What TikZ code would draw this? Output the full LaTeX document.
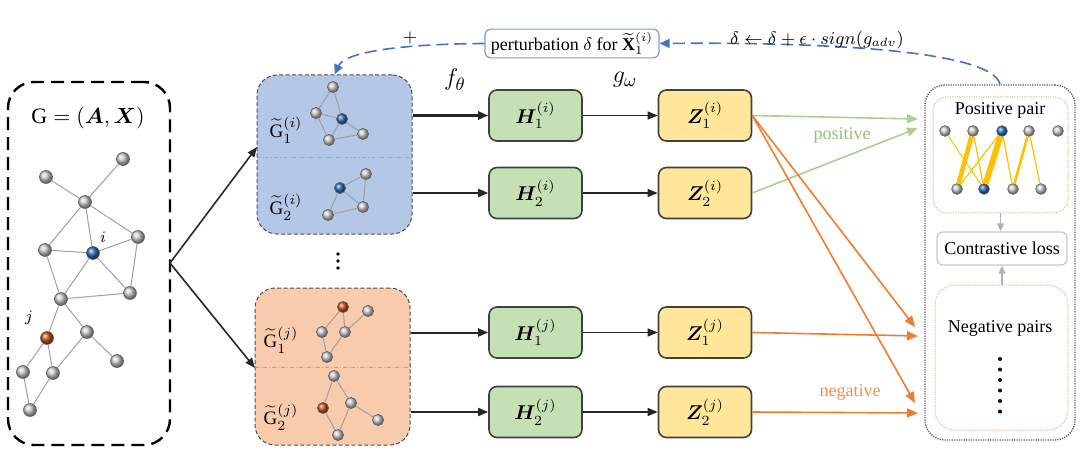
\documentclass[tikz,border=0pt]{standalone}
\usepackage{amsmath,amssymb,bm}
\usepackage{fontspec}
\setmainfont{Liberation Serif}
\usetikzlibrary{arrows.meta}
\definecolor{bluefill}{HTML}{B4C7E7}
\definecolor{orangefill}{HTML}{F8CBAD}
\definecolor{hfill}{HTML}{C5E0B4}
\definecolor{zfill}{HTML}{FFE699}
\definecolor{boxline}{HTML}{404040}
\definecolor{pblue}{HTML}{4472C4}
\definecolor{pgreen}{HTML}{A9D18E}
\definecolor{porange}{HTML}{ED7D31}
\definecolor{edgegray}{HTML}{A0A0A0}
\definecolor{nblue}{HTML}{2A6CB8}
\definecolor{norange}{HTML}{C5500F}
\definecolor{edgey}{HTML}{FFC000}
\begin{document}
\begin{tikzpicture}[x=0.5pt,y=-0.5pt,
  gnode/.style={circle,inner sep=0pt,minimum size=6.5pt,shading=ball,ball color=gray!38,draw=gray!75!black,line width=0.3pt},
  snode/.style={gnode,minimum size=5.6pt},
  rnode/.style={gnode,minimum size=5.4pt},
  bnode/.style={ball color=nblue},
  onode/.style={ball color=norange},
  gedge/.style={draw=edgegray,line width=0.5pt},
  hbox/.style={draw=boxline,line width=0.8pt,fill=hfill,rounded corners=4pt,minimum width=46.5pt,minimum height=25.5pt,font=\fontsize{10}{12}\selectfont},
  zbox/.style={hbox,fill=zfill},
  aug/.style={draw=gray!60!black,dash pattern=on 2pt off 1.2pt,line width=0.5pt,rounded corners=10pt,minimum width=77.5pt},
  divider/.style={draw=gray!70,line width=0.4pt,dash pattern=on 2pt off 1pt on 0.4pt off 1pt},
  blk/.style={-{Triangle[length=5pt,width=4pt]},line width=0.8pt,black!85},
  colarr/.style={-{Triangle[length=5.5pt,width=4.5pt]},line width=0.8pt},
  grayarr/.style={-{Triangle[length=4pt,width=3.5pt]},line width=0.7pt,gray!60},
  feedback/.style={pblue,line width=0.8pt,dash pattern=on 6pt off 3pt},
  lbl/.style={font=\fontsize{9}{11}\selectfont,inner sep=0pt},
  glbl/.style={font=\fontsize{9.5}{11}\selectfont,inner sep=0pt},
  yedge/.style={draw=edgey}
]
\useasboundingbox (0,0) rectangle (1080,470);

% ---------- left graph ----------
\node[draw,line width=1.2pt,dash pattern=on 6.5pt off 3.5pt,rounded corners=13pt,minimum width=81pt,minimum height=181.5pt] (G) at (89,263.5) {};
\node[font=\fontsize{11}{13}\selectfont] (Gt) at (88,118) {$\mathrm{G} = (\boldsymbol{A}, \boldsymbol{X})$};
\node[gnode] (n1) at (46,177) {};
\node[gnode] (n2) at (123,159) {};
\node[gnode] (n3) at (85,202) {};
\node[gnode] (n4) at (45,250) {};
\node[gnode,bnode] (ni) at (93,253) {};
\node[gnode] (n5) at (138,237) {};
\node[gnode] (n6) at (130,293) {};
\node[gnode] (n7) at (61,299) {};
\node[gnode] (n8) at (87,332) {};
\node[gnode,onode] (nj) at (47,338) {};
\node[gnode] (n9) at (117,361) {};
\node[gnode] (n10) at (23,372) {};
\node[gnode] (n11) at (53,373) {};
\node[gnode] (n12) at (30,410) {};
\node[lbl,font=\fontsize{8}{9}\selectfont] (li) at (103,237) {$i$};
\node[lbl,font=\fontsize{8}{9}\selectfont] (lj) at (29,318) {$j$};
\foreach \a/\b in {n1/n3,n2/n3,n3/n4,n3/ni,n3/n5,n4/ni,ni/n5,n4/n7,ni/n7,ni/n6,n5/n6,n7/n6,n7/nj,n7/n8,n8/n9,nj/n10,nj/n11,n11/n8,n10/n12,n12/n11}
  \draw[gedge] (\a) -- (\b);

% ---------- augmented views ----------
\node[aug,fill=bluefill,minimum height=79.5pt] (bluebox) at (334.5,154.5) {};
\draw[divider] (bluebox.west |- 0,157) -- (bluebox.east |- 0,157);
\node[aug,fill=orangefill,minimum height=78.5pt] (orangebox) at (332.5,366.5) {};
\draw[divider] (orangebox.west |- 0,367) -- (orangebox.east |- 0,367);

\node[glbl] (g1i) at (286,130) {$\widetilde{\mathrm{G}}_1^{(i)}$};
\node[glbl] (g2i) at (286,207) {$\widetilde{\mathrm{G}}_2^{(i)}$};
\node[glbl] (g1j) at (281,340) {$\widetilde{\mathrm{G}}_1^{(j)}$};
\node[glbl] (g2j) at (281,417) {$\widetilde{\mathrm{G}}_2^{(j)}$};

% blue sub graph 1
\node[snode] (a1) at (333,87) {};
\node[snode] (b1) at (316,113) {};
\node[snode,bnode] (c1) at (342,119) {};
\node[snode] (d1) at (329,140) {};
\node[snode] (e1) at (363,134) {};
\foreach \a/\b in {a1/b1,a1/c1,b1/c1,b1/d1,c1/d1,c1/e1,d1/e1} \draw[gedge] (\a) -- (\b);
% blue sub graph 2
\node[snode] (f2) at (366,174) {};
\node[snode,bnode] (g2) at (340,188) {};
\node[snode] (h2) at (363,207) {};
\node[snode] (k2) at (328,215) {};
\foreach \a/\b in {g2/f2,f2/h2,g2/h2,g2/k2,k2/h2} \draw[gedge] (\a) -- (\b);
% orange sub graph 1
\node[snode,onode] (p3) at (343,307) {};
\node[snode] (q3) at (368,311) {};
\node[snode] (r3) at (322,332) {};
\node[snode] (s3) at (345,332) {};
\node[snode] (t3) at (327,357) {};
\foreach \a/\b in {p3/r3,p3/s3,s3/q3,r3/t3,s3/t3} \draw[gedge] (\a) -- (\b);
% orange sub graph 2
\node[snode] (u4) at (334,376) {};
\node[snode,onode] (v4) at (323,408) {};
\node[snode] (w4) at (351,403) {};
\node[snode] (x4) at (378,420) {};
\node[snode] (y4) at (338,435) {};
\foreach \a/\b in {u4/v4,u4/w4,w4/x4,w4/y4,v4/y4} \draw[gedge] (\a) -- (\b);

% vertical dots
\foreach \yy in {254,261,268} \fill (338,\yy) circle (0.9pt);

% branching arrows
\coordinate (apex) at (170,263);
\coordinate (bin) at (257,147);
\coordinate (oin) at (255,368);
\draw[blk] (apex) -- (bin);
\draw[blk] (apex) -- (oin);

% ---------- encoders ----------
\node[hbox] (H1i) at (535.5,115.5) {$\boldsymbol{H}_1^{(i)}$};
\node[hbox] (H2i) at (535.5,193) {$\boldsymbol{H}_2^{(i)}$};
\node[hbox] (H1j) at (535.5,332.5) {$\boldsymbol{H}_1^{(j)}$};
\node[hbox] (H2j) at (535.5,412) {$\boldsymbol{H}_2^{(j)}$};
\node[zbox] (Z1i) at (705,115.5) {$\boldsymbol{Z}_1^{(i)}$};
\node[zbox] (Z2i) at (705,193) {$\boldsymbol{Z}_2^{(i)}$};
\node[zbox] (Z1j) at (705,332.5) {$\boldsymbol{Z}_1^{(j)}$};
\node[zbox] (Z2j) at (705,412) {$\boldsymbol{Z}_2^{(j)}$};

\draw[blk,line width=1.2pt] (H1i.west -| bluebox.east) -- (H1i.west);
\draw[blk,line width=1pt] (H2i.west -| bluebox.east) -- (H2i.west);
\draw[blk,line width=1pt] (H1j.west -| orangebox.east) -- (H1j.west);
\draw[blk,line width=1pt] (H2j.west -| orangebox.east) -- (H2j.west);
\foreach \r in {1i,2i,1j,2j} \draw[blk,line width=0.7pt] (H\r.east) -- (Z\r.west);

\node[font=\fontsize{12.5}{14}\selectfont] (fth) at (455,80) {$f_\theta$};
\node[font=\fontsize{12.5}{14}\selectfont] (gom) at (625,80) {$g_\omega$};

% ---------- right panel ----------
\node[draw=gray!70!black,line width=0.7pt,dash pattern=on 0.6pt off 0.6pt,rounded corners=10pt,minimum width=75pt,minimum height=177.5pt] (outer) at (1000,262.5) {};
\node[draw=pgreen,line width=0.5pt,dash pattern=on 0.6pt off 0.6pt,rounded corners=7pt,minimum width=67.5pt,minimum height=58pt] (pos) at (1000.5,155) {};
\node[draw=gray!45,line width=0.6pt,rounded corners=3pt,minimum width=65pt,minimum height=16.5pt,font=\fontsize{9}{11}\selectfont] (loss) at (1002,248.5) {Contrastive loss};
\node[draw=porange!60,line width=0.5pt,dash pattern=on 0.6pt off 0.6pt,rounded corners=10pt,minimum width=66.5pt,minimum height=72.5pt] (neg) at (1001.5,357.5) {};
\node[lbl] (post) at (1000,110) {Positive pair};
\node[lbl] (negt) at (1000,328) {Negative pairs};
\foreach \yy in {359,369.5,380,390.5,401,411.5} \fill (1000,\yy) circle (1pt);
\draw[grayarr] (pos.south) -- (pos.south |- loss.north);
\draw[grayarr] (neg.north -| loss.south) -- (loss.south);

\node[rnode] (T1) at (945,131) {};
\node[rnode] (T2) at (973,131) {};
\node[rnode,bnode] (T3) at (1002,131) {};
\node[rnode] (T4) at (1029,131) {};
\node[rnode] (T5) at (1058,131) {};
\node[rnode] (B1) at (957,189) {};
\node[rnode,bnode] (B2) at (984,189) {};
\node[rnode] (B3) at (1013,189) {};
\node[rnode] (B4) at (1041,189) {};
\draw[yedge,line width=0.5pt] (T1) -- (B2);
\draw[yedge,line width=0.6pt] (T2) -- (B2);
\draw[yedge,line width=0.6pt] (T3) -- (B1);
\draw[yedge,line width=0.6pt] (T3) -- (B3);
\draw[yedge,line width=0.6pt] (T4) -- (B4);
\draw[yedge,line width=1.3pt] (T4) -- (B3);
\draw[yedge,line width=2.3pt] (T2) -- (B1);
\draw[yedge,line width=3pt] (T3) -- (B2);

% ---------- pair arrows ----------
\coordinate (pp1) at (918,119);
\coordinate (pp2) at (918,128);
\coordinate (np1) at (915,327);
\coordinate (np2) at (918,336);
\coordinate (np3) at (915,403);
\coordinate (np4) at (918,413);
\draw[colarr,pgreen] (Z1i.east) -- (pp1);
\draw[colarr,pgreen] (Z2i.east) -- (pp2);
\draw[colarr,porange] (Z1i.east) -- (np1);
\draw[colarr,porange] (Z1i.east) -- (np3);
\draw[colarr,porange] (Z1j.east) -- (np2);
\draw[colarr,porange] (Z2j.east) -- (np4);
\node[lbl,text=pgreen!90!black] (poslbl) at (842,135) {positive};
\node[lbl,text=porange!85] (neglbl) at (850,392) {negative};

% ---------- adversarial feedback ----------
\node[draw=pblue!70,line width=0.6pt,rounded corners=3pt,fill=white,minimum width=87pt,minimum height=13.5pt,inner sep=1.5pt,font=\fontsize{9}{11}\selectfont] (pert) at (572,43.5) {perturbation $\delta$ for $\widetilde{\mathbf{X}}_1^{(i)}$};
\draw[feedback,-{Triangle[length=5pt,width=4.5pt]}] (outer.north) .. controls (992,50) and (820,42) .. (pert.east);
\draw[feedback,-{Triangle[length=5pt,width=4.5pt]}] (pert.west) .. controls (400,44) and (345,52) .. (bluebox.north);
\node[lbl] (plus) at (410,38) {$+$};
\node[lbl] (upd) at (817,40) {$\delta \leftarrow \delta + \epsilon\cdot sign(g_{adv})$};
\end{tikzpicture}
\end{document}
